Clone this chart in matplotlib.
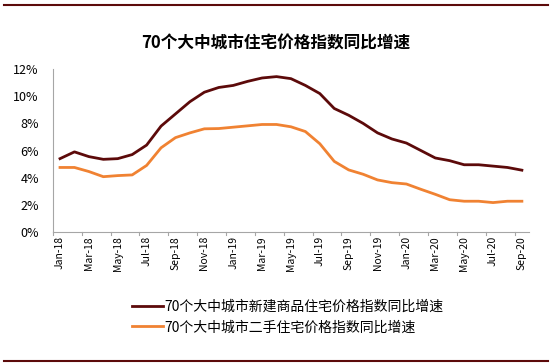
import matplotlib
matplotlib.use('Agg')
import matplotlib.pyplot as plt
from matplotlib.lines import Line2D

plt.rcParams['font.family'] = ['Noto Sans CJK SC', 'DejaVu Sans']

months = ['Jan-18', 'Feb-18', 'Mar-18', 'Apr-18', 'May-18', 'Jun-18', 'Jul-18', 'Aug-18',
          'Sep-18', 'Oct-18', 'Nov-18', 'Dec-18', 'Jan-19', 'Feb-19', 'Mar-19', 'Apr-19',
          'May-19', 'Jun-19', 'Jul-19', 'Aug-19', 'Sep-19', 'Oct-19', 'Nov-19', 'Dec-19',
          'Jan-20', 'Feb-20', 'Mar-20', 'Apr-20', 'May-20', 'Jun-20', 'Jul-20', 'Aug-20',
          'Sep-20']
# new commodity housing, YoY %
new_home = [5.4, 5.9, 5.55, 5.35, 5.4, 5.7, 6.4, 7.8, 8.7, 9.6, 10.3, 10.65,
            10.8, 11.1, 11.35, 11.45, 11.3, 10.8, 10.2, 9.1, 8.6, 8.0, 7.3, 6.85,
            6.55, 6.0, 5.45, 5.25, 4.95, 4.95, 4.85, 4.75, 4.55]
# second-hand housing, YoY %
used_home = [4.75, 4.75, 4.45, 4.07, 4.15, 4.2, 4.9, 6.2, 6.95, 7.3, 7.6, 7.62,
             7.72, 7.82, 7.92, 7.92, 7.75, 7.4, 6.5, 5.2, 4.57, 4.25, 3.83, 3.63,
             3.53, 3.14, 2.77, 2.37, 2.26, 2.26, 2.16, 2.26, 2.26]
y_ticks = [0, 2, 4, 6, 8, 10, 12]

fig = plt.figure(figsize=(5.5, 3.64), dpi=100)
ax = fig.add_axes([0.096, 0.363, 0.866, 0.447])

x = list(range(len(months)))
ax.plot(x, new_home, color='#5C0A0A', lw=2.0, solid_joinstyle='round',
        label='70个大中城市新建商品住宅价格指数同比增速')
ax.plot(x, used_home, color='#F08232', lw=2.0, solid_joinstyle='round',
        label='70个大中城市二手住宅价格指数同比增速')

ax.set_xlim(-0.5, len(months) - 0.5)
ax.set_ylim(0, 12)
ax.set_yticks(y_ticks)
ax.set_yticklabels([f'{v}%' for v in y_ticks], fontsize=9)
ax.tick_params(axis='y', length=0, pad=10)

# category labels every 2 months, tick marks at category boundaries
ax.set_xticks(x[::2])
ax.set_xticklabels(months[::2], rotation=90, fontsize=7.5)
ax.tick_params(axis='x', length=0, pad=3)
for b in range(0, len(months) + 1, 2):
    ax.plot([b - 0.5, b - 0.5], [0, -0.25], color='#A6A6A6', lw=0.8,
            clip_on=False, transform=ax.transData)

for s in ['top', 'right']:
    ax.spines[s].set_visible(False)
ax.spines['left'].set_color('#A6A6A6')
ax.spines['bottom'].set_color('#A6A6A6')

fig.text(0.502, 0.88, '70个大中城市住宅价格指数同比增速', ha='center', va='center',
         fontsize=12, fontweight='bold')

fig.legend(loc='upper left', bbox_to_anchor=(0.218, 0.21), frameon=False,
           fontsize=10, handlelength=2.2, handletextpad=0.1, labelspacing=0.45)

# decorative top and bottom rules
fig.add_artist(Line2D([0.007, 0.997], [1 - 5 / 364, 1 - 5 / 364], color='#5C0A0A', lw=1.5))
fig.add_artist(Line2D([0.007, 0.997], [1 - 361 / 364, 1 - 361 / 364], color='#5C0A0A', lw=1.5))

fig.savefig('out.png', dpi=100)
